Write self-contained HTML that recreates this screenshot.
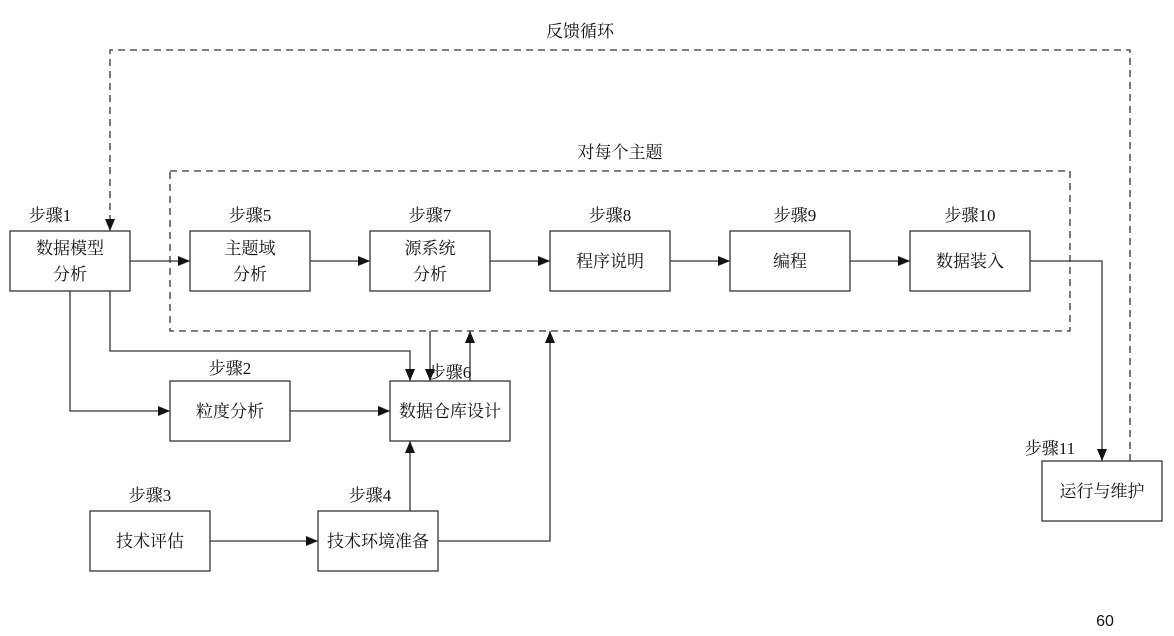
<!DOCTYPE html>
<html><head><meta charset="utf-8"><style>
body{margin:0;background:#fff;}
svg text{font-family:"Liberation Serif","Noto Serif CJK SC",serif;font-size:17px;fill:#111;}
</style></head><body>
<svg width="1174" height="631" xmlns="http://www.w3.org/2000/svg">
<defs><marker id="a" markerWidth="12" markerHeight="10" refX="12" refY="5" orient="auto" markerUnits="userSpaceOnUse"><path d="M0,0L12,5L0,10z" fill="#111"/></marker></defs>
<g fill="none" stroke="#333" stroke-width="1.3">
<rect x="170" y="171" width="900" height="160" stroke-dasharray="7,5"/>
<path d="M1130,461V50H110V231" stroke-dasharray="7,5" marker-end="url(#a)"/>
<rect x="10" y="231" width="120" height="60"/>
<rect x="190" y="231" width="120" height="60"/>
<rect x="370" y="231" width="120" height="60"/>
<rect x="550" y="231" width="120" height="60"/>
<rect x="730" y="231" width="120" height="60"/>
<rect x="910" y="231" width="120" height="60"/>
<rect x="170" y="381" width="120" height="60"/>
<rect x="390" y="381" width="120" height="60"/>
<rect x="90" y="511" width="120" height="60"/>
<rect x="318" y="511" width="120" height="60"/>
<rect x="1042" y="461" width="120" height="60"/>
<path d="M130,261H190" marker-end="url(#a)"/>
<path d="M310,261H370" marker-end="url(#a)"/>
<path d="M490,261H550" marker-end="url(#a)"/>
<path d="M670,261H730" marker-end="url(#a)"/>
<path d="M850,261H910" marker-end="url(#a)"/>
<path d="M1030,261H1102V461" marker-end="url(#a)"/>
<path d="M110,291V351H410V381" marker-end="url(#a)"/>
<path d="M70,291V411H170" marker-end="url(#a)"/>
<path d="M290,411H390" marker-end="url(#a)"/>
<path d="M430,331V381" marker-end="url(#a)"/>
<path d="M470,381V331" marker-end="url(#a)"/>
<path d="M410,511V441" marker-end="url(#a)"/>
<path d="M210,541H318" marker-end="url(#a)"/>
<path d="M438,541H550V331" marker-end="url(#a)"/>
</g>
<g text-anchor="middle">
<text x="580" y="37">反馈循环</text>
<text x="620" y="158">对每个主题</text>
<text x="70" y="254">数据模型</text><text x="70" y="280">分析</text>
<text x="250" y="254">主题域</text><text x="250" y="280">分析</text>
<text x="430" y="254">源系统</text><text x="430" y="280">分析</text>
<text x="610" y="267">程序说明</text>
<text x="790" y="267">编程</text>
<text x="970" y="267">数据装入</text>
<text x="230" y="417">粒度分析</text>
<text x="450" y="417">数据仓库设计</text>
<text x="150" y="547">技术评估</text>
<text x="378" y="547">技术环境准备</text>
<text x="1102" y="497">运行与维护</text>
<text x="50" y="221">步骤1</text>
<text x="250" y="221">步骤5</text>
<text x="430" y="221">步骤7</text>
<text x="610" y="221">步骤8</text>
<text x="795" y="221">步骤9</text>
<text x="970" y="221">步骤10</text>
<text x="230" y="374">步骤2</text>
<text x="450" y="378">步骤6</text>
<text x="150" y="501">步骤3</text>
<text x="370" y="501">步骤4</text>
<text x="1050" y="454">步骤11</text>
<text x="1105" y="626" style="font-family:'Liberation Sans',sans-serif;font-size:16px">60</text>
</g>
</svg>
</body></html>
